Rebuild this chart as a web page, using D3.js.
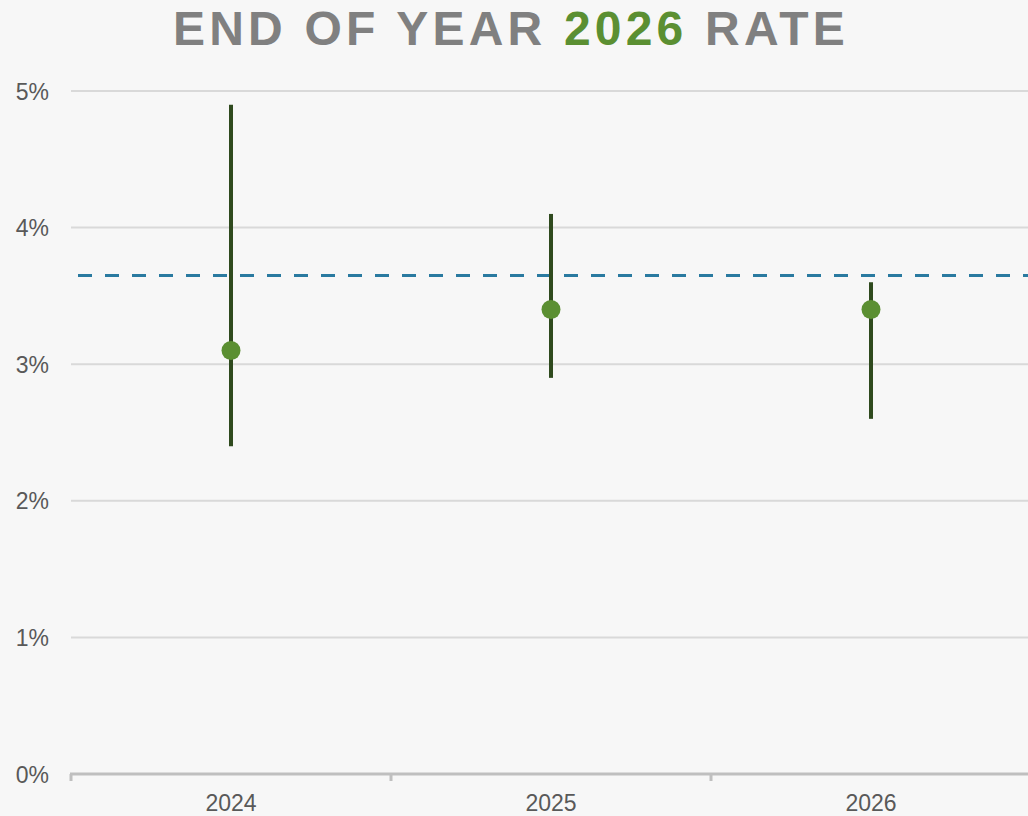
<!DOCTYPE html>
<html>
<head>
<meta charset="utf-8">
<title>End of Year 2026 Rate</title>
<style>
body { margin: 0; background-color: #f7f7f7; }
svg { background-color: #f7f7f7; display: block; }
</style>
</head>
<body>
<script src="https://d3js.org/d3.v7.min.js"></script>
<script>
// values (percent)
var years = ["2024", "2025", "2026"];
var median = [3.1, 3.4, 3.4];
var low = [2.4, 2.9, 2.6];
var high = [4.9, 4.1, 3.6];
var longRun = 3.65;
var yTicks = [0, 1, 2, 3, 4, 5];

var W = 1028, H = 816;
var margin = {top: 91, right: -3, bottom: 42, left: 71};

var svg = d3.select("body").append("svg")
  .attr("width", W)
  .attr("height", H);

var x = d3.scaleBand().domain(years).range([margin.left, W - margin.right]);
var y = d3.scaleLinear().domain([0, 5]).range([H - margin.bottom, margin.top]);

// title
var title = svg.append("text")
  .attr("x", 511)
  .attr("y", 45)
  .attr("text-anchor", "middle")
  .style("font-family", "Liberation Sans, Arial, sans-serif")
  .style("font-weight", "bold")
  .style("font-size", "48px")
  .style("letter-spacing", "4.2px")
  .attr("fill", "#808080");
title.append("tspan").text("END OF YEAR ");
title.append("tspan").attr("fill", "#5b8f32").text("2026");
title.append("tspan").text(" RATE");

// grid lines
svg.append("g").selectAll("line").data(yTicks.filter(function(d) { return d > 0; }))
  .enter().append("line")
  .attr("x1", margin.left).attr("x2", W)
  .attr("y1", function(d) { return y(d); })
  .attr("y2", function(d) { return y(d); })
  .attr("stroke", "#d9d9d9")
  .attr("stroke-width", 2);

// y labels
svg.append("g").selectAll("text").data(yTicks).enter().append("text")
  .attr("x", 49)
  .attr("y", function(d) { return y(d) + 8.5; })
  .attr("text-anchor", "end")
  .style("font-family", "Liberation Sans, Arial, sans-serif")
  .style("font-size", "23px")
  .attr("fill", "#595959")
  .text(function(d) { return d + "%"; });

// x axis
var xAxis = svg.append("g").attr("transform", "translate(0," + y(0) + ")");
xAxis.append("line")
  .attr("x1", margin.left - 1).attr("x2", W)
  .attr("stroke", "#bfbfbf").attr("stroke-width", 3);
xAxis.selectAll(".tk").data(years).enter().append("line")
  .attr("class", "tk")
  .attr("x1", function(d) { return x(d); })
  .attr("x2", function(d) { return x(d); })
  .attr("y1", 0).attr("y2", 7)
  .attr("stroke", "#bfbfbf").attr("stroke-width", 3);
xAxis.selectAll("text").data(years).enter().append("text")
  .attr("x", function(d) { return x(d) + x.bandwidth() / 2; })
  .attr("y", 37)
  .attr("text-anchor", "middle")
  .style("font-family", "Liberation Sans, Arial, sans-serif")
  .style("font-size", "23px")
  .attr("fill", "#595959")
  .text(function(d) { return d; });

// long-run dashed line
svg.append("line")
  .attr("x1", 78).attr("x2", W)
  .attr("y1", y(longRun)).attr("y2", y(longRun))
  .attr("stroke", "#2a7aa0")
  .attr("stroke-width", 3)
  .attr("stroke-dasharray", "14,13");

// range whiskers
svg.append("g").selectAll("line").data(years).enter().append("line")
  .attr("x1", function(d) { return x(d) + x.bandwidth() / 2; })
  .attr("x2", function(d) { return x(d) + x.bandwidth() / 2; })
  .attr("y1", function(d, i) { return y(low[i]); })
  .attr("y2", function(d, i) { return y(high[i]); })
  .attr("stroke", "#2f4a1e")
  .attr("stroke-width", 4);

// medians
svg.append("g").selectAll("circle").data(years).enter().append("circle")
  .attr("cx", function(d) { return x(d) + x.bandwidth() / 2; })
  .attr("cy", function(d, i) { return y(median[i]); })
  .attr("r", 9.5)
  .attr("fill", "#5b8f32");
</script>
</body>
</html>
